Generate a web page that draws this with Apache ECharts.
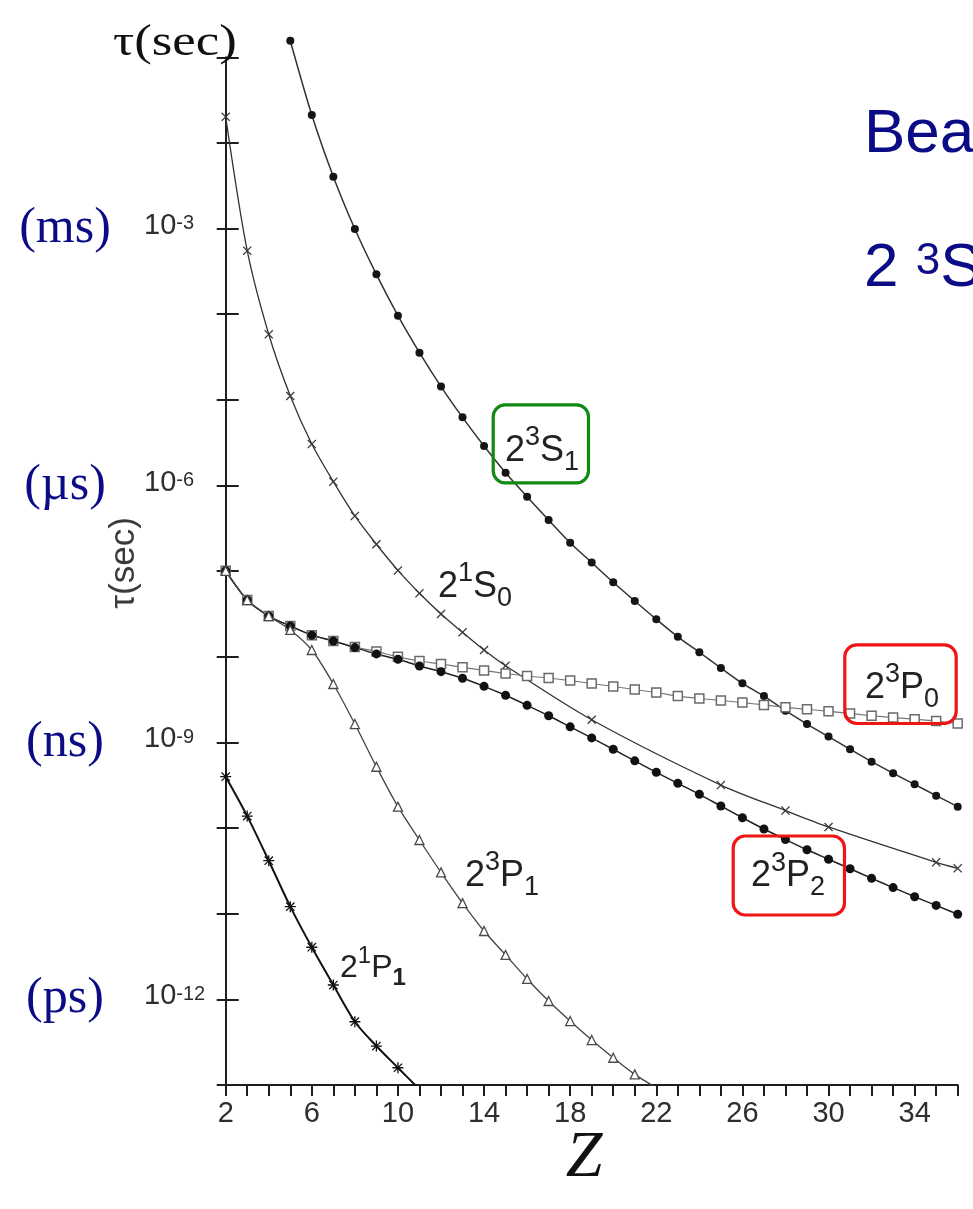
<!DOCTYPE html>
<html>
<head>
<meta charset="utf-8">
<script src="https://cdn.jsdelivr.net/npm/echarts@6/dist/echarts.min.js"></script>
<style>
  html, body { margin: 0; padding: 0; background: #ffffff; }
  #chart { width: 973px; height: 1209px; }
</style>
</head>
<body>
<div id="chart"></div>
<script>
// Radiative lifetimes (seconds) of the n=2 levels of He-like ions versus nuclear charge Z

// 2 3S1 (filled dots)
const zS1 = [5, 6, 7, 8, 9, 10, 11, 12, 13, 14, 15, 16, 17, 18, 19, 20, 21, 22, 23, 24, 25, 26, 27, 28, 29, 30, 31, 32, 33, 34, 35, 36];
const tauS1 = [1.56e-1, 2.12e-2, 4.04e-3, 9.89e-4, 2.92e-4, 9.62e-5, 3.56e-5, 1.43e-5, 6.25e-6, 2.89e-6, 1.41e-6, 7.40e-7,
  3.95e-7, 2.15e-7, 1.26e-7, 7.41e-8, 4.48e-8, 2.74e-8, 1.71e-8, 1.13e-8, 7.40e-9, 4.90e-9, 3.48e-9, 2.35e-9,
  1.64e-9, 1.17e-9, 8.32e-10, 5.96e-10, 4.37e-10, 3.24e-10, 2.39e-10, 1.78e-10];

// 2 1S0 (crosses)
const zS0 = [2, 3, 4, 5, 6, 7, 8, 9, 10, 11, 12, 13, 14, 15, 19, 25, 28, 30, 35, 36];
const tauS0 = [2.02e-2, 5.52e-4, 5.83e-5, 1.11e-5, 3.05e-6, 1.11e-6, 4.41e-7, 2.06e-7, 1.02e-7, 5.51e-8, 3.16e-8,
  1.93e-8, 1.20e-8, 7.87e-9, 1.84e-9, 3.18e-10, 1.60e-10, 1.03e-10, 3.98e-11, 3.39e-11];

// 2 3P0 (open squares)
const zP0 = [2, 3, 4, 5, 6, 7, 8, 9, 10, 11, 12, 13, 14, 15, 16, 17, 18, 19, 20, 21, 22, 23, 24, 25, 26, 27, 28, 29, 30, 31, 32, 33, 34, 35, 36];
const tauP0 = [1.01e-7, 4.60e-8, 2.99e-8, 2.29e-8, 1.79e-8, 1.53e-8, 1.30e-8, 1.15e-8, 1.00e-8, 8.93e-9, 8.24e-9,
  7.53e-9, 6.92e-9, 6.38e-9, 5.97e-9, 5.65e-9, 5.28e-9, 4.88e-9, 4.50e-9, 4.15e-9, 3.83e-9, 3.48e-9, 3.26e-9,
  3.09e-9, 2.92e-9, 2.74e-9, 2.57e-9, 2.44e-9, 2.31e-9, 2.18e-9, 2.05e-9, 1.95e-9, 1.87e-9, 1.78e-9, 1.66e-9];

// 2 3P2 (filled circles)
const zP2 = [2, 3, 4, 5, 6, 7, 8, 9, 10, 11, 12, 13, 14, 15, 16, 17, 18, 19, 20, 21, 22, 23, 24, 25, 26, 27, 28, 29, 30, 31, 32, 33, 34, 35, 36];
const tauP2 = [1.01e-7, 4.60e-8, 2.99e-8, 2.29e-8, 1.79e-8, 1.53e-8, 1.28e-8, 1.08e-8, 9.35e-9, 7.80e-9, 6.70e-9,
  5.61e-9, 4.52e-9, 3.55e-9, 2.71e-9, 2.05e-9, 1.52e-9, 1.13e-9, 8.32e-10, 6.10e-10, 4.48e-10, 3.33e-10, 2.48e-10,
  1.81e-10, 1.32e-10, 9.75e-11, 7.35e-11, 5.58e-11, 4.33e-11, 3.35e-11, 2.59e-11, 2.02e-11, 1.58e-11, 1.25e-11, 9.86e-12];

// 2 3P1 (open triangles)
const zP1 = [2, 3, 4, 5, 6, 7, 8, 9, 10, 11, 12, 13, 14, 15, 16, 17, 18, 19, 20, 21, 22];
const tauP1 = [1.01e-7, 4.60e-8, 2.99e-8, 2.06e-8, 1.20e-8, 4.81e-9, 1.64e-9, 5.20e-10, 1.78e-10, 7.26e-11, 3.04e-11,
  1.33e-11, 6.28e-12, 3.30e-12, 1.73e-12, 9.57e-13, 5.58e-13, 3.35e-13, 2.08e-13, 1.33e-13, 9.3e-14];

// 2 1P1 (asterisks)
const z1P1 = [2, 3, 4, 5, 6, 7, 8, 9, 10, 11];
const tau1P1 = [3.98e-10, 1.38e-10, 4.16e-11, 1.21e-11, 4.06e-12, 1.47e-12, 5.48e-13, 2.85e-13, 1.59e-13, 8.9e-14];

// Axis labelling
const zLabels = [2, 6, 10, 14, 18, 22, 26, 30, 34];
const decadeLabels = [-3, -6, -9, -12];
const unitExps = [-3, -6, -9, -12];
const unitNames = ['(ms)', '(\u00b5s)', '(ns)', '(ps)'];

const SANS = '"Liberation Sans", Arial, Helvetica, sans-serif';
const SERIF = '"Liberation Serif", "Times New Roman", Times, serif';
const NAVY = '#0b0b86';
const INK = '#1e1e1e';

const CROSS = 'path://M1,0 L5,4 L9,0 L10,1 L6,5 L10,9 L9,10 L5,6 L1,10 L0,9 L4,5 L0,1 Z';
const ASTER = 'path://M4.4,0 L5.6,0 L5.6,4.4 L10,4.4 L10,5.6 L5.6,5.6 L5.6,10 L4.4,10 L4.4,5.6 L0,5.6 L0,4.4 L4.4,4.4 Z ' +
  'M1.6,0.8 L5,4.2 L8.4,0.8 L9.2,1.6 L5.8,5 L9.2,8.4 L8.4,9.2 L5,5.8 L1.6,9.2 L0.8,8.4 L4.2,5 L0.8,1.6 Z';

function pairs(zs, taus) { return zs.map((z, i) => [z, taus[i]]); }

function curve(name, zs, taus, extra) {
  return Object.assign({
    type: 'line', name: name, data: pairs(zs, taus), xAxisIndex: 0, yAxisIndex: 0,
    smooth: 0.3, showAllSymbol: true, animation: false, silent: true
  }, extra);
}

function exponent(v) { return Math.round(Math.log10(v)); }

const logAxisBase = { type: 'log', logBase: 10, min: 1e-13, max: 1e-1, interval: 1, position: 'left', splitLine: { show: false } };

// Term symbol like 2^3S_1 drawn as rich text, positioned by the main glyph's left edge and vertical centre
function term(left, midY, parts, fs, boldSub) {
  const L = Math.round(fs * 1.22);
  const sfs = Math.round(fs * 0.75);
  const sl = Math.round(sfs * 0.5);
  const supC = L / 2 - fs * 0.36;
  const subC = L / 2 + fs * 0.32;
  return {
    type: 'text', x: left, y: midY - L / 2, z: 100, silent: true,
    style: {
      text: '{m|' + parts[0] + '}{u|' + parts[1] + '}{m|' + parts[2] + '}{d|' + parts[3] + '}',
      align: 'left', verticalAlign: 'top',
      rich: {
        m: { fontSize: fs, fontFamily: SANS, lineHeight: L, fill: '#222' },
        u: { fontSize: sfs, fontFamily: SANS, lineHeight: sl, fill: '#222', padding: [supC - sl / 2, 0, L - supC - sl / 2, 0] },
        d: { fontSize: sfs, fontFamily: SANS, fontWeight: boldSub ? 'bold' : 'normal', lineHeight: sl, fill: '#222',
             padding: [subC - sl / 2, 0, L - subC - sl / 2, 0] }
      }
    }
  };
}

function roundBox(x, y, w, h, color) {
  return { type: 'rect', z: 99, silent: true, shape: { x: x, y: y, width: w, height: h, r: 12 },
           style: { fill: 'none', stroke: color, lineWidth: 3.2 } };
}

const chart = echarts.init(document.getElementById('chart'), null, { renderer: 'canvas' });

chart.setOption({
  backgroundColor: '#ffffff',
  animation: false,
  grid: { left: 225.7, right: 15.3, top: 57.3, bottom: 124, containLabel: false, outerBoundsMode: 'none' },
  xAxis: {
    type: 'value', min: 2, max: 36, interval: 1,
    splitLine: { show: false },
    axisLine: { onZero: false, lineStyle: { color: INK, width: 2 } },
    axisTick: { length: 11, lineStyle: { color: INK, width: 2 } },
    axisLabel: {
      margin: 14, fontFamily: SANS, fontSize: 29, color: '#2e2e2e',
      formatter: v => (zLabels.indexOf(v) >= 0 ? String(v) : '')
    }
  },
  yAxis: [
    // decade ticks crossing the axis line: the axis is shifted into the plot so its outward ticks straddle the line
    Object.assign({}, logAxisBase, {
      offset: -13,
      axisLine: { show: false },
      axisTick: { show: true, length: 22, lineStyle: { color: INK, width: 2 } },
      axisLabel: {
        margin: 94.7, align: 'left', color: '#2e2e2e',
        formatter: v => {
          const e = exponent(v);
          return decadeLabels.indexOf(e) >= 0 ? '{b|10}{s|' + e + '}' : '';
        },
        rich: {
          b: { fontFamily: SANS, fontSize: 29, lineHeight: 30, padding: [0, 0, 6, 0], color: '#2e2e2e' },
          s: { fontFamily: SANS, fontSize: 20, lineHeight: 20, verticalAlign: 'top', color: '#2e2e2e' }
        }
      }
    }),
    // the vertical axis line itself
    Object.assign({}, logAxisBase, {
      axisLine: { show: true, onZero: false, lineStyle: { color: INK, width: 2 } },
      axisTick: { show: false },
      axisLabel: { show: false }
    }),
    // time-unit annotations beside the decade labels
    Object.assign({}, logAxisBase, {
      axisLine: { show: false },
      axisTick: { show: false },
      axisLabel: {
        margin: 160.7, align: 'center', fontFamily: SERIF, fontSize: 50, color: NAVY, padding: [0, 0, 10, 0],
        formatter: v => {
          const i = unitExps.indexOf(exponent(v));
          return i >= 0 ? unitNames[i] : '';
        }
      }
    })
  ],
  series: [
    curve('2 3S1', zS1, tauS1, {
      clip: false, symbol: 'circle', symbolSize: 8,
      lineStyle: { color: '#333', width: 1.5 }, itemStyle: { color: '#151515' }
    }),
    curve('2 1S0', zS0, tauS0, {
      symbol: CROSS, symbolSize: 9,
      lineStyle: { color: '#333', width: 1.3 }, itemStyle: { color: '#3a3a3a' }
    }),
    curve('2 3P0', zP0, tauP0, {
      symbol: 'rect', symbolSize: 9,
      lineStyle: { color: '#777', width: 1.2 },
      itemStyle: { color: '#ffffff', borderColor: '#6a6a6a', borderWidth: 1.5 }
    }),
    curve('2 3P2', zP2, tauP2, {
      symbol: 'circle', symbolSize: 9,
      lineStyle: { color: '#222', width: 1.5 }, itemStyle: { color: '#111' }
    }),
    curve('2 3P1', zP1, tauP1, {
      symbol: 'triangle', symbolSize: 9,
      lineStyle: { color: '#444', width: 1.3 },
      itemStyle: { color: '#ffffff', borderColor: '#4a4a4a', borderWidth: 1.3 }
    }),
    curve('2 1P1', z1P1, tau1P1, {
      symbol: ASTER, symbolSize: 11,
      lineStyle: { color: '#111', width: 2 }, itemStyle: { color: '#111' }
    })
  ],
  graphic: [
    // axis titles
    { type: 'text', x: 113, y: 43, scaleX: 1.2, z: 100, silent: true,
      style: { text: '\u03c4(sec)', font: '44px ' + SERIF, fill: '#111', align: 'left', verticalAlign: 'middle' } },
    { type: 'text', x: 124, y: 563, rotation: Math.PI / 2, z: 100, silent: true,
      style: { text: '\u03c4(sec)', font: '35px ' + SANS, fill: '#3a3a3a', align: 'center', verticalAlign: 'middle' } },
    { type: 'text', x: 584, y: 1159, z: 100, silent: true,
      style: { text: 'Z', font: 'italic 66px ' + SERIF, fill: '#111', align: 'center', verticalAlign: 'middle' } },
    // heading text running off the right edge
    { type: 'text', x: 864, y: 135, z: 100, silent: true,
      style: { text: 'Bea', font: '62px ' + SANS, fill: NAVY, align: 'left', verticalAlign: 'middle' } },
    { type: 'text', x: 864, y: 238, z: 100, silent: true,
      style: {
        text: '{m|2 }{u|3}{m|S}', align: 'left', verticalAlign: 'top',
        rich: {
          m: { fontSize: 62, fontFamily: SANS, lineHeight: 62, fill: NAVY },
          u: { fontSize: 44, fontFamily: SANS, lineHeight: 20, fill: NAVY, padding: [14, 0, 28, 0] }
        }
      } },
    // level labels
    roundBox(493.2, 404.8, 95.3, 78, '#108a10'),
    roundBox(844.8, 644.8, 111.4, 78.7, '#f01414'),
    roundBox(733.2, 836, 111.3, 79, '#f01414'),
    term(505, 451, ['2', '3', 'S', '1'], 36),
    term(438, 587, ['2', '1', 'S', '0'], 36),
    term(865, 688, ['2', '3', 'P', '0'], 36),
    term(751, 876.5, ['2', '3', 'P', '2'], 36),
    term(465, 876, ['2', '3', 'P', '1'], 36),
    term(340, 968, ['2', '1', 'P', '1'], 32, true)
  ]
});
</script>
</body>
</html>
